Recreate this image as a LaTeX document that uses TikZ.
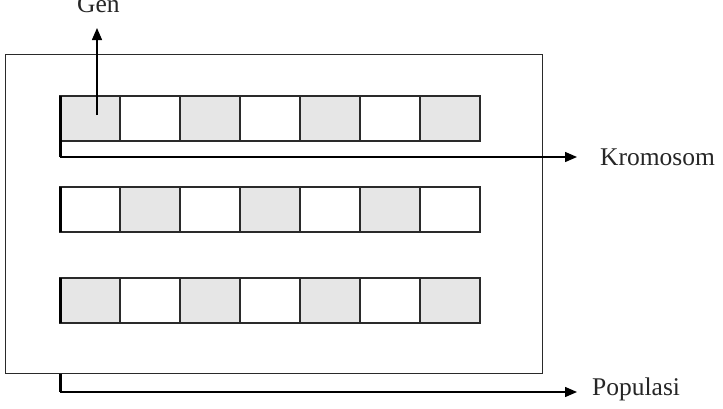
\documentclass[tikz,border=0pt]{standalone}
\usepackage{fontspec}
\setmainfont{Liberation Serif}
\usetikzlibrary{arrows.meta}
\definecolor{cellgray}{HTML}{E6E6E6}
\definecolor{linegray}{HTML}{2A2A2A}
\begin{document}
\begin{tikzpicture}[x=1pt,y=-1pt,
  cellbox/.style={draw=linegray,line width=1.4pt,minimum width=60pt,minimum height=45pt,inner sep=0pt,outer sep=0pt,anchor=north west},
  gcell/.style={cellbox,fill=cellgray},
  wcell/.style={cellbox,fill=white},
  lbl/.style={font=\fontsize{25.5}{28}\selectfont,inner sep=0pt,anchor=base west,text=black!85},
  arr/.style={draw=black,line width=1.4pt,-{Triangle[length=12pt,width=10pt]}},
  thickbar/.style={draw=black,line width=3pt}]
\useasboundingbox (0,0) rectangle (723,408);
\clip (0,0) rectangle (723,408);
% outer box
\node[draw=linegray,line width=1.4pt,minimum width=537pt,minimum height=319pt,inner sep=0pt,anchor=north west] (pop) at (5,54) {};
% rows
\foreach \r/\y/\s in {1/96/0,2/187/1,3/278/0}{
  \foreach \c in {1,...,7}{
    \pgfmathtruncatemacro{\myparity}{mod(\c+\s,2)}
    \ifnum\myparity=1
      \node[gcell] (c\r\c) at ({60+(\c-1)*60},\y) {};
    \else
      \node[wcell] (c\r\c) at ({60+(\c-1)*60},\y) {};
    \fi
  }
  \draw[thickbar] (c\r1.north west) -- (c\r1.south west);
}
% labels
\node[lbl] (gen) at (77,12) {Gen};
\node[lbl] (krom) at (600,165) {Kromosom};
\node[lbl] (popl) at (592,395) {Populasi};
\coordinate (gentip) at (97,28);
\coordinate (genstart) at (97,115);
\coordinate (kc) at (60,157);
\coordinate (kend) at (577,157);
\coordinate (pc) at (60,392);
\coordinate (pend) at (577,392);
% arrows
\draw[arr] (genstart) -- (gentip);
\draw[thickbar] (c11.south west) -- (kc);
\draw[arr] (kc) -- (kend);
\draw[thickbar] (pc |- pop.south) -- (pc);
\draw[arr] (pc) -- (pend);
\end{tikzpicture}
\end{document}
